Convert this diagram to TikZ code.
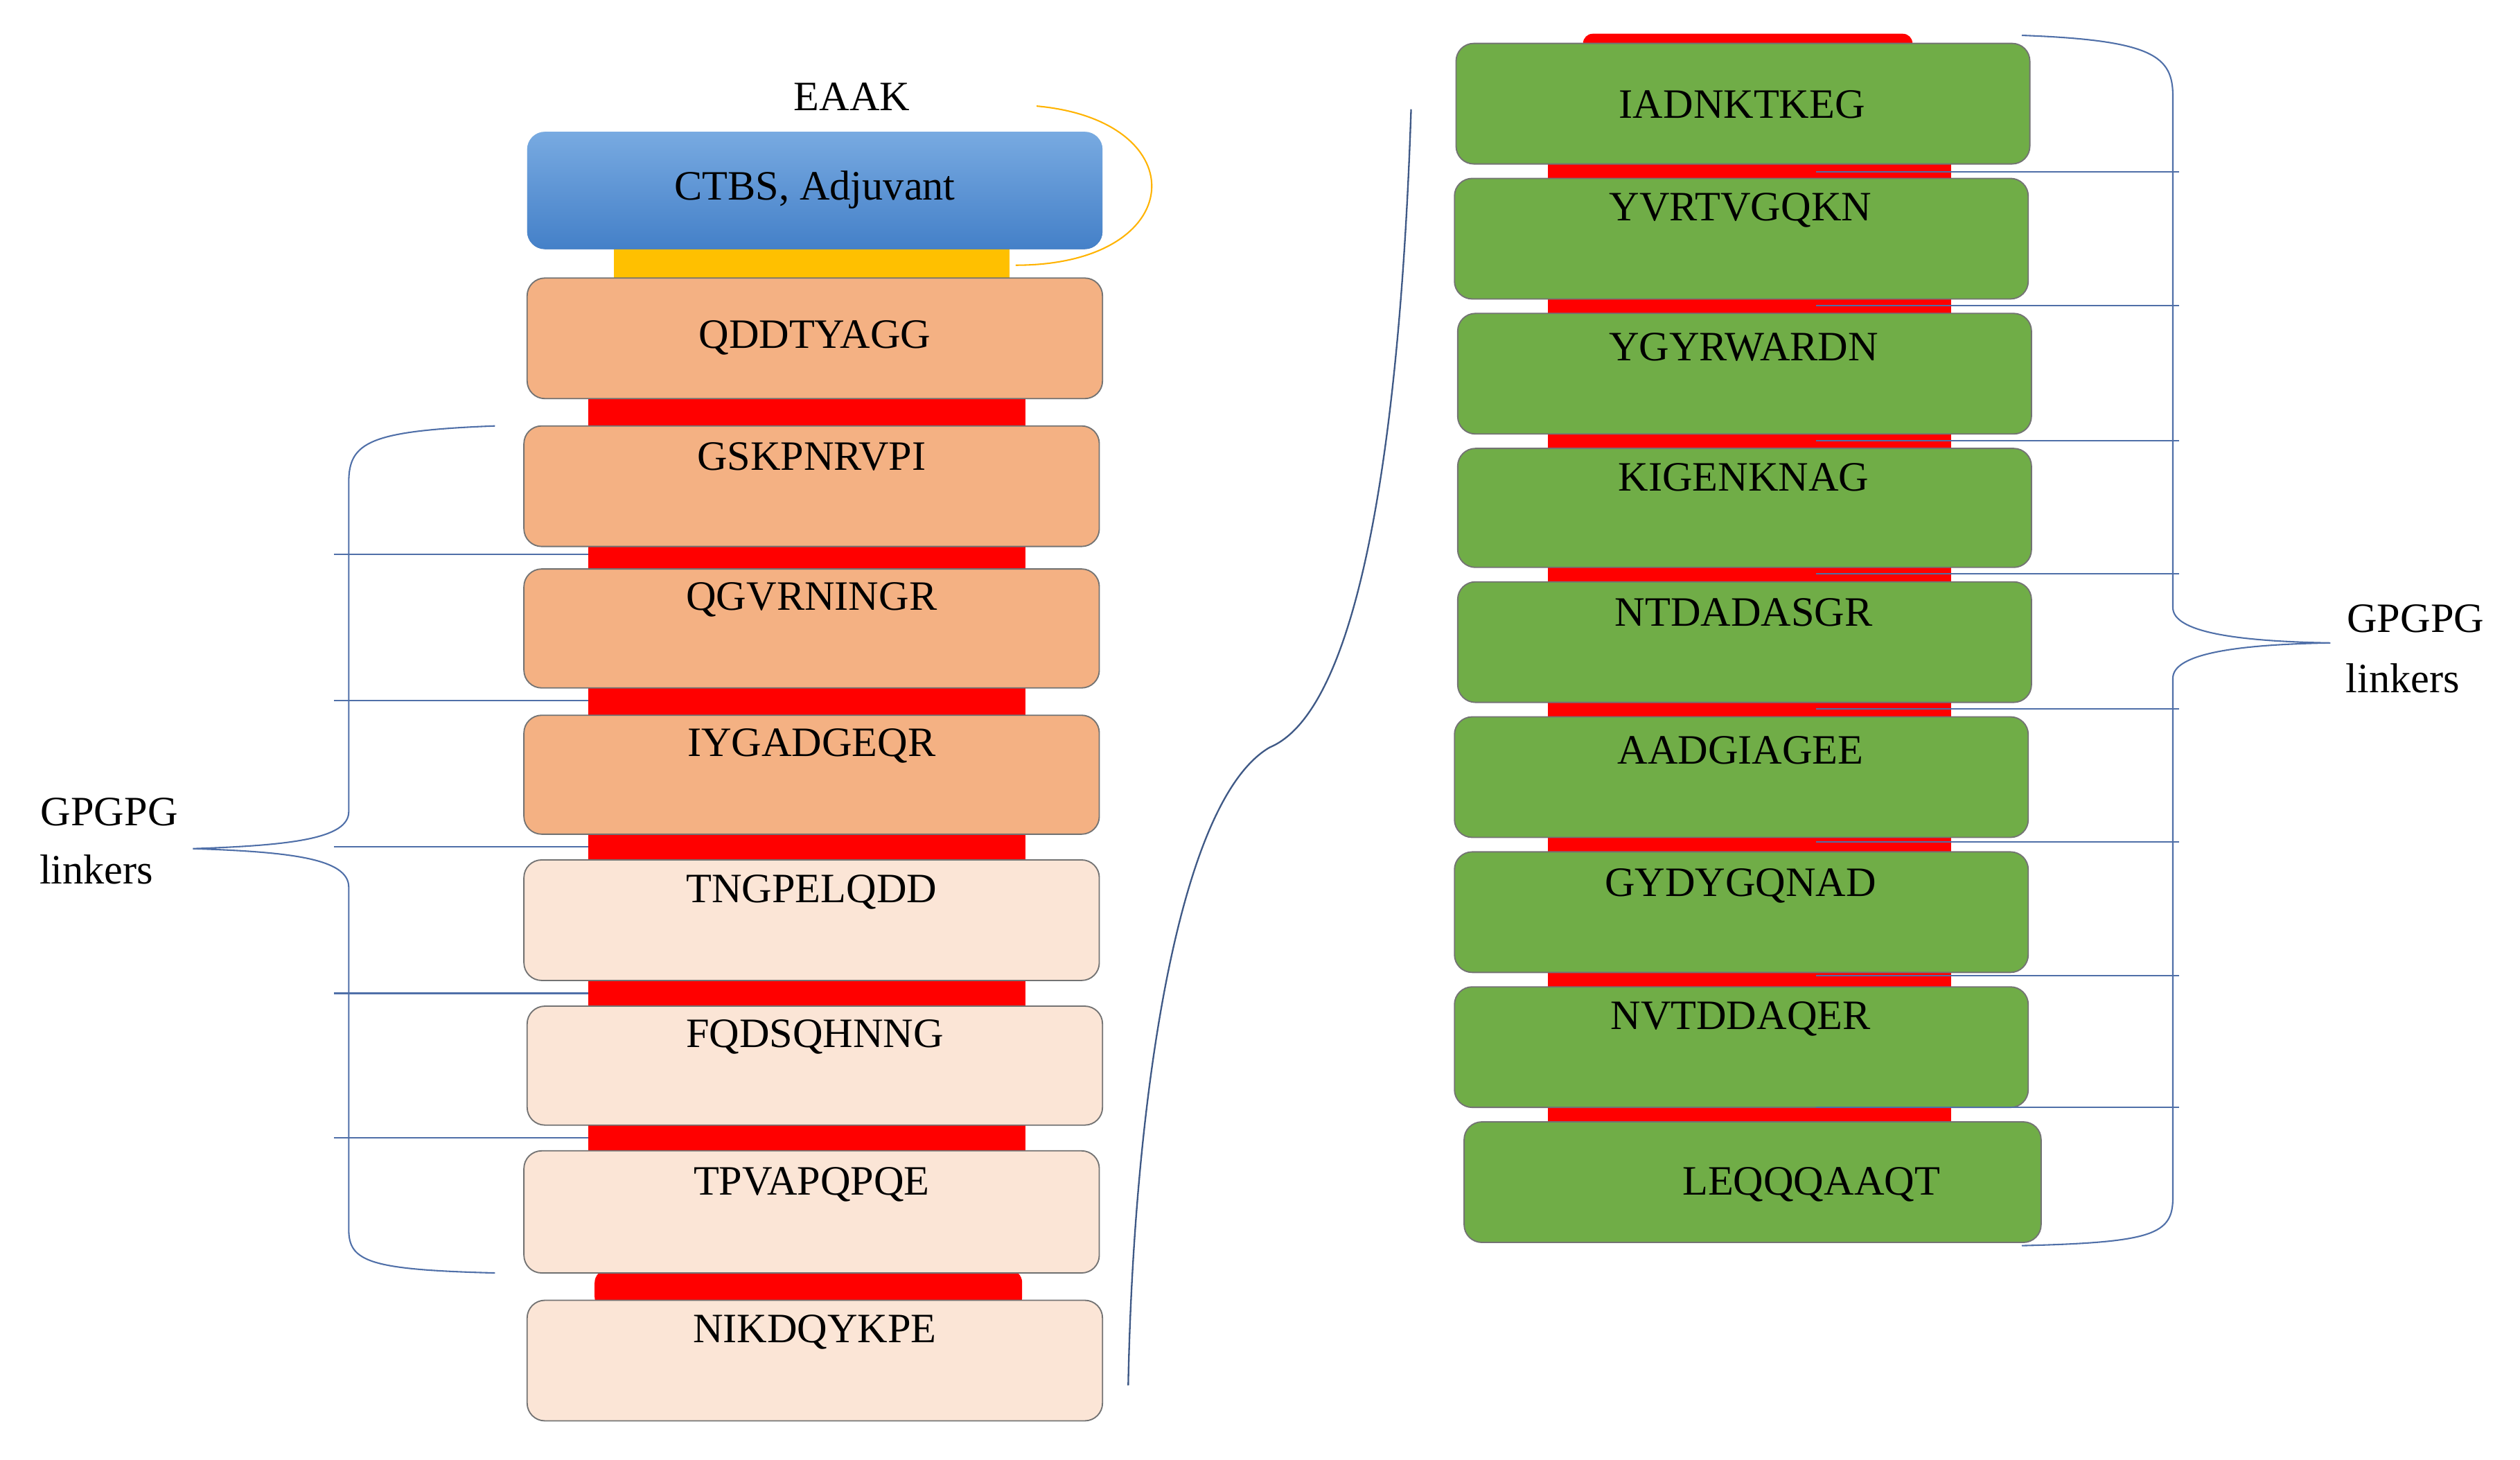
\documentclass[tikz,border=0pt]{standalone}
\usepackage{fontspec}
\setmainfont{Liberation Serif}
\begin{document}
\begin{tikzpicture}[x=1pt,y=-1pt,
  box/.style={draw=black!55,line width=0.8pt,rounded corners=11pt,inner sep=0pt},
  orng/.style={box,fill=orange1},
  lite/.style={box,fill=light1},
  grn/.style={box,fill=green1},
  red/.style={fill=red,draw=none},
  txt/.style={font=\fontsize{26}{30}\selectfont,inner sep=0pt},
  ln/.style={draw=blue1,line width=0.9pt}]
\definecolor{orange1}{HTML}{F4B183}
\definecolor{light1}{HTML}{FBE5D6}
\definecolor{green1}{HTML}{70AD47}
\definecolor{blue1}{HTML}{4F6FA8}
\definecolor{yel}{HTML}{FFC000}
\useasboundingbox (0,0) rectangle (1568,908);
% left linkers
\fill[yel] (382,150) rectangle (628,176);
\foreach \a/\b in {246/267,338/356,426/447,517/537,608/628,698/718}{\fill[red] (366,\a) rectangle (638,\b);}
\fill[red,rounded corners=8pt] (370,790) rectangle (636,815);
% blue box
\shade[top color=blue!35!cyan!60!black!30!white,bottom color=blue!60!cyan!50!black!70,rounded corners=11pt,draw=none] (328,82) rectangle (686,155);
\node[inner sep=0pt,minimum width=358pt,minimum height=73pt,rounded corners=11pt] (ctbs) at (507,118.5) {};
\shade[rounded corners=11pt,top color={rgb,255:red,120;green,170;blue,225},bottom color={rgb,255:red,68;green,128;blue,200}] (328,82) rectangle (686,155);
\node[txt] (tctbs) at (507,118) {CTBS, Adjuvant};
\node[txt] (eaak) at (530,60) {EAAK};
\coordinate (ya) at (645,66);
\coordinate (yb) at (632,165);
\draw[yel!80!orange,line width=0.9pt] (ya) .. controls (745,75) and (740,165) .. (yb);
% left boxes
\node[orng,minimum width=358pt,minimum height=75pt] (b1) at (507,210.5) {};
\node[txt] at (507,210) {QDDTYAGG};
\node[orng,minimum width=358pt,minimum height=75pt] (b2) at (505,302.5) {};
\node[txt] at (505,284) {GSKPNRVPI};
\node[orng,minimum width=358pt,minimum height=74pt] (b3) at (505,391) {};
\node[txt] at (505,373) {QGVRNINGR};
\node[orng,minimum width=358pt,minimum height=74pt] (b4) at (505,482) {};
\node[txt] at (505,464) {IYGADGEQR};
\node[lite,minimum width=358pt,minimum height=75pt] (b5) at (505,572.5) {};
\node[txt] at (505,555) {TNGPELQDD};
\node[lite,minimum width=358pt,minimum height=74pt] (b6) at (507,663) {};
\node[txt] at (507,645) {FQDSQHNNG};
\node[lite,minimum width=358pt,minimum height=76pt] (b7) at (505,754) {};
\node[txt] at (505,737) {TPVAPQPQE};
\node[lite,minimum width=358pt,minimum height=75pt] (b8) at (507,846.5) {};
\node[txt] at (507,829) {NIKDQYKPE};
% left bracket
\draw[ln] (308,265) .. controls (230,268) and (217,275) .. (217,300) -- (217,505) .. controls (217,522) and (180,526) .. (120,528) .. controls (180,530) and (217,534) .. (217,552) -- (217,765) .. controls (217,785) and (230,790) .. (308,792);
\foreach \y in {345,436,527,618,708}{\draw[ln] (208,\y) -- (366,\y);}
\node[txt] (g1) at (68,505) {GPGPG};
\node[txt] (l1) at (60,541) {linkers};
% big connecting curve
\draw[draw=blue1!80!black,line width=1pt] (878,68) .. controls (872,250) and (850,440) .. (790,465) .. controls (730,500) and (705,700) .. (702,862);
% right linkers
\fill[red,rounded corners=6pt] (985,21) rectangle (1190,34);
\foreach \a in {100,184,268,351,435,519,603,687}{\fill[red] (963,\a) rectangle (1214,\a+13);}
% right boxes
\node[grn,minimum width=357pt,minimum height=75pt] (r1) at (1084.5,64.5) {};
\node[txt] at (1084,65) {IADNKTKEG};
\node[grn,minimum width=357pt,minimum height=75pt] (r2) at (1083.5,148.5) {};
\node[txt] at (1083,131) {YVRTVGQKN};
\node[grn,minimum width=357pt,minimum height=75pt] (r3) at (1085.5,232.5) {};
\node[txt] at (1085,216) {YGYRWARDN};
\node[grn,minimum width=357pt,minimum height=74pt] (r4) at (1085.5,316) {};
\node[txt] at (1085,297) {KIGENKNAG};
\node[grn,minimum width=357pt,minimum height=75pt] (r5) at (1085.5,399.5) {};
\node[txt] at (1085,381) {NTDADASGR};
\node[grn,minimum width=357pt,minimum height=75pt] (r6) at (1083.5,483.5) {};
\node[txt] at (1083,467) {AADGIAGEE};
\node[grn,minimum width=357pt,minimum height=75pt] (r7) at (1083.5,567.5) {};
\node[txt] at (1083,551) {GYDYGQNAD};
\node[grn,minimum width=357pt,minimum height=75pt] (r8) at (1083.5,651.5) {};
\node[txt] at (1083,634) {NVTDDAQER};
\node[grn,minimum width=359pt,minimum height=75pt] (r9) at (1090.5,735.5) {};
\node[txt] at (1127,737) {LEQQQAAQT};
% right bracket
\draw[ln] (1258,22) .. controls (1340,25) and (1352,35) .. (1352,60) -- (1352,378) .. controls (1352,393) and (1390,399) .. (1450,400) .. controls (1390,401) and (1352,407) .. (1352,422) -- (1352,745) .. controls (1352,768) and (1340,773) .. (1258,775);
\foreach \y in {107,190,274,357,441,524,607,689}{\draw[ln] (1130,\y) -- (1356,\y);}
\node[txt] (g2) at (1503,385) {GPGPG};
\node[txt] (l2) at (1495,422) {linkers};
\end{tikzpicture}
\end{document}
